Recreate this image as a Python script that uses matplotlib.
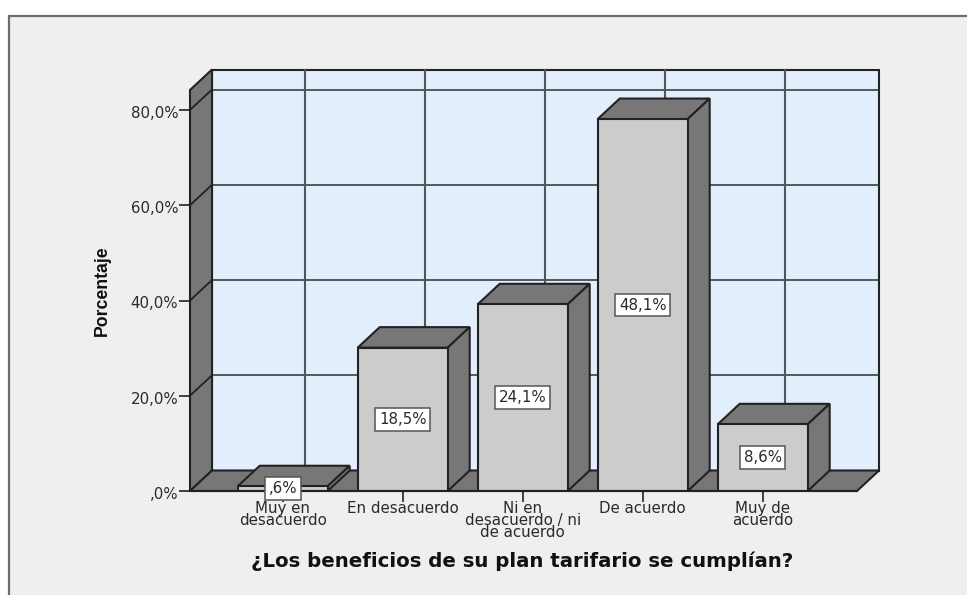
import matplotlib
matplotlib.use("Agg")
import matplotlib.pyplot as plt
from matplotlib.patches import Polygon, Rectangle
from matplotlib.transforms import ScaledTranslation, offset_copy

categories = ["Muy en\ndesacuerdo", "En desacuerdo", "Ni en\ndesacuerdo / ni\nde acuerdo", "De acuerdo", "Muy de\nacuerdo"]
bar_heights = [1.0, 30.1, 39.2, 78.1, 14.0]
value_labels = [",6%", "18,5%", "24,1%", "48,1%", "8,6%"]
y_ticks = [0, 20, 40, 60, 80]
y_tick_labels = [",0%", "20,0%", "40,0%", "60,0%", "80,0%"]
x_label = "¿Los beneficios de su plan tarifario se cumplían?"
y_label = "Porcentaje"

W, H = 967, 595
DPI = 100
DX, DY = 22, 20.5       # depth in pixels
LINE = "#222222"
WALL = "#E2EEFB"
SIDE = "#777777"
FRONT = "#CCCCCC"
PANEL = "#EFEFEF"
BORDER = "#6E6E6E"
TEXT = "#2A2A2A"
plt.rcParams["font.family"] = ["DejaVu Sans"]

fig = plt.figure(figsize=(W / DPI, H / DPI), dpi=DPI, facecolor="white")
fig.patches.append(Rectangle((9 / W, -0.1), 1.1, 1.1 - 16 / H, transform=fig.transFigure,
                             facecolor=PANEL, edgecolor=BORDER, linewidth=1.6, zorder=-5))

L, R, B, T = 190, 857, 491, 90
ax = fig.add_axes([L / W, 1 - B / H, (R - L) / W, (B - T) / H], facecolor="none")
ax.set_xlim(-0.7725, 4.786)
ax.set_ylim(0, (B - T) / 4.7625)
for s in ax.spines.values():
    s.set_visible(False)
ax.patch.set_visible(False)

back = offset_copy(ax.transData, fig=fig, x=DX, y=DY, units="dots")
x0, x1 = ax.get_xlim()
y0, y1 = ax.get_ylim()


def poly(pts, fc, z, lw=1.5):
    """pts are (x, y, depth) with depth 0 = front plane, 1 = back plane."""
    disp = [ax.transData.transform((x, y)) + (d * DX, d * DY) for x, y, d in pts]
    ax.add_patch(Polygon(disp, closed=True, transform=None, facecolor=fc, edgecolor=LINE,
                         linewidth=lw, zorder=z, clip_on=False, joinstyle="miter"))


# back wall, left wall, floor
poly([(x0, y0, 1), (x1, y0, 1), (x1, y1, 1), (x0, y1, 1)], WALL, 1)
poly([(x0, y0, 0), (x0, y0, 1), (x0, y1, 1), (x0, y1, 0)], SIDE, 1)
poly([(x0, y0, 0), (x1, y0, 0), (x1, y0, 1), (x0, y0, 1)], SIDE, 1)

# gridlines on the walls
for t in y_ticks[1:]:
    ax.plot([x0, x1], [t, t], transform=back, color="#2A2F33", lw=1.1, zorder=2, clip_on=False)
    a = ax.transData.transform((x0, t))
    ax.plot([a[0], a[0] + DX], [a[1], a[1] + DY], transform=None, color=LINE, lw=1.3, zorder=2, clip_on=False)
for i in range(len(categories)):
    ax.plot([i, i], [y0, y1], transform=back, color="#50555A", lw=1.5, zorder=2, clip_on=False)

# bars
bar_w = 0.75
bars = ax.bar(range(len(categories)), bar_heights, width=bar_w, color=FRONT,
              edgecolor=LINE, linewidth=1.5, zorder=6)
for i, (h, lab) in enumerate(zip(bar_heights, value_labels)):
    l, r = i - bar_w / 2, i + bar_w / 2
    poly([(l, h, 0), (r, h, 0), (r, h, 1), (l, h, 1)], SIDE, 5)
    poly([(r, 0, 0), (r, 0, 1), (r, h, 1), (r, h, 0)], SIDE, 5)
    ax.text(i, max(h / 2, 0.55), lab, ha="center", va="center", fontsize=10.8, color=TEXT, zorder=8,
            bbox=dict(boxstyle="square,pad=0.25", facecolor="white", edgecolor="#555555", linewidth=1.1))

# base line in front
ax.plot([x0, x1], [0, 0], color=LINE, lw=1.5, zorder=7, clip_on=False)

# ticks and labels
ax.set_xticks(range(len(categories)))
ax.set_xticklabels(categories, fontsize=10.8, color=TEXT, linespacing=0.78, ha="center", va="top")
ax.set_yticks(y_ticks)
ax.set_yticklabels(y_tick_labels, fontsize=10.8, color=TEXT)
ax.tick_params(axis="x", length=8, width=1.2, color=LINE, pad=-1, direction="out")
ax.tick_params(axis="y", length=8, width=1.2, color=LINE, pad=0.5)
for lab in ax.get_yticklabels():
    lab.set_transform(lab.get_transform() + ScaledTranslation(0, -2 / DPI, fig.dpi_scale_trans))

fig.text(522 / W, 1 - 561 / H, x_label, ha="center", va="center", fontsize=14.2,
         fontweight="bold", family="DejaVu Sans", color="#111111")
fig.text(102 / W, 1 - 291 / H, y_label, rotation=90, ha="center", va="center", fontsize=12.7,
         fontweight="bold", family="Liberation Sans", color="#111111")

fig.savefig("out.png", dpi=DPI, facecolor="white")
